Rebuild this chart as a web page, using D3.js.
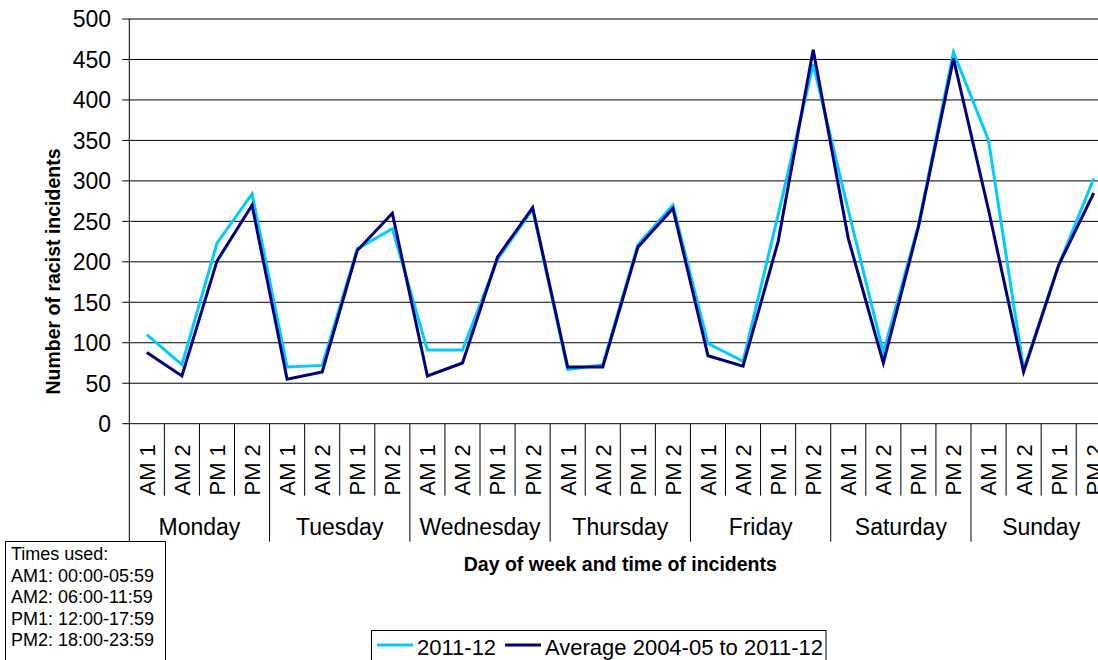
<!DOCTYPE html>
<html>
<head>
<meta charset="utf-8">
<script src="https://cdn.jsdelivr.net/npm/d3@7"></script>
<style>
  html, body { margin: 0; padding: 0; background: #fff; overflow: hidden; }
  svg { display: block; font-family: "Liberation Sans", Arial, sans-serif; }
</style>
</head>
<body>
<div id="chart"></div>
<script>
// data
const days = ['Monday', 'Tuesday', 'Wednesday', 'Thursday', 'Friday', 'Saturday', 'Sunday'];
const slots = ['AM 1', 'AM 2', 'PM 1', 'PM 2'];
const yTicks = [0, 50, 100, 150, 200, 250, 300, 350, 400, 450, 500];
const series2011 = [110, 73, 223, 284, 70, 72, 216, 241, 91, 91, 203, 265, 67, 73, 221, 270,
  99, 77, 258, 444, 264, 88, 245, 459, 350, 67, 196, 303];
const seriesAvg = [88, 59, 201, 270, 55, 64, 214, 260, 59, 75, 206, 267, 70, 70, 218, 266,
  84, 71, 225, 462, 229, 75, 243, 451, 264, 64, 196, 285];
const seriesNames = ['2011-12', 'Average 2004-05 to 2011-12'];
const timesUsed = ['Times used:', 'AM1: 00:00-05:59', 'AM2: 06:00-11:59', 'PM1: 12:00-17:59', 'PM2: 18:00-23:59'];

const W = 1098;
const H = 660;
const plotLeft = 129.3;
const plotRight = 1111.3;   // plot runs past the right edge, as in the reference
const plotTop = 19;
const plotBottom = 423.7;
const colors = ['#00ccff', '#000080'];

const cats = days.flatMap((d)=> slots.map((s)=> `${d}|${s}`));

const svg = d3.select('#chart').append('svg')
  .attr('width', W)
  .attr('height', H);

const x = d3.scaleBand().domain(cats).range([plotLeft, plotRight]);
const y = d3.scaleLinear().domain([0, 500]).range([plotBottom, plotTop]);

// gridlines + y ticks
const yg = svg.append('g').attr('class', 'y-axis');
yg.selectAll('line.grid')
  .data(yTicks)
  .enter()
  .append('line')
  .attr('x1', plotLeft - 7)
  .attr('x2', plotRight)
  .attr('y1', (d)=> y(d))
  .attr('y2', (d)=> y(d))
  .attr('stroke', '#000')
  .attr('stroke-width', 1);
yg.selectAll('text')
  .data(yTicks)
  .enter()
  .append('text')
  .attr('x', 111)
  .attr('y', (d)=> y(d))
  .attr('dy', '0.36em')
  .attr('text-anchor', 'end')
  .style('font-size', '23px')
  .text((d)=> d);

// axis line
svg.append('line')
  .attr('x1', plotLeft).attr('x2', plotLeft)
  .attr('y1', plotTop).attr('y2', 541.7)
  .attr('stroke', '#000');

// category ticks: short within a day, long at day boundaries
const xg = svg.append('g').attr('class', 'x-axis');
xg.selectAll('line')
  .data(cats.slice(1))
  .enter()
  .append('line')
  .attr('x1', (d)=> x(d))
  .attr('x2', (d)=> x(d))
  .attr('y1', plotBottom)
  .attr('y2', (d, i)=> ((i + 1) % slots.length === 0 ? 541.7 : 495.7))
  .attr('stroke', '#000');

xg.selectAll('text.slot')
  .data(cats)
  .enter()
  .append('text')
  .attr('class', 'slot')
  .attr('transform', (d)=> `translate(${x(d) + x.bandwidth() / 2},495.5) rotate(-90)`)
  .attr('dy', '0.36em')
  .style('font-size', '22px')
  .text((d)=> d.split('|')[1]);

xg.selectAll('text.day')
  .data(days)
  .enter()
  .append('text')
  .attr('class', 'day')
  .attr('x', (d)=> x(`${d}|${slots[0]}`) + x.bandwidth() * slots.length / 2)
  .attr('y', 534.5)
  .attr('text-anchor', 'middle')
  .style('font-size', '23px')
  .text((d)=> d);

// lines
const line = d3.line()
  .x((d, i)=> x(cats[i]) + x.bandwidth() / 2)
  .y((d)=> y(d));

[series2011, seriesAvg].forEach((s, k)=> {
  svg.append('path')
    .datum(s)
    .attr('fill', 'none')
    .attr('stroke', colors[k])
    .attr('stroke-width', 3)
    .attr('stroke-linejoin', 'miter')
    .attr('d', line);
});

// axis titles
svg.append('text')
  .attr('transform', 'translate(60,271.5) rotate(-90)')
  .attr('text-anchor', 'middle')
  .style('font-size', '19.5px')
  .style('font-weight', 'bold')
  .text('Number of racist incidents');

svg.append('text')
  .attr('x', (plotLeft + plotRight) / 2)
  .attr('y', 571)
  .attr('text-anchor', 'middle')
  .style('font-size', '19.5px')
  .style('font-weight', 'bold')
  .text('Day of week and time of incidents');

// times used box
const tb = svg.append('g');
tb.append('rect')
  .attr('x', 5.5).attr('y', 541.5)
  .attr('width', 160).attr('height', 140)
  .attr('fill', '#fff')
  .attr('stroke', '#000');
tb.selectAll('text')
  .data(timesUsed)
  .enter()
  .append('text')
  .attr('x', 11)
  .attr('y', (d, i)=> 560 + i * 21.6)
  .style('font-size', '18px')
  .text((d)=> d);

// legend
const lg = svg.append('g');
lg.append('rect')
  .attr('x', 371.5).attr('y', 630.5)
  .attr('width', 454.5).attr('height', 50)
  .attr('fill', '#fff')
  .attr('stroke', '#000');
const legX = [377, 505];
seriesNames.forEach((name, k)=> {
  lg.append('line')
    .attr('x1', legX[k]).attr('x2', legX[k] + 36)
    .attr('y1', 645).attr('y2', 645)
    .attr('stroke', colors[k])
    .attr('stroke-width', 3);
  lg.append('text')
    .attr('x', legX[k] + 40)
    .attr('y', 655)
    .style('font-size', '22px')
    .text(name);
});
</script>
</body>
</html>
